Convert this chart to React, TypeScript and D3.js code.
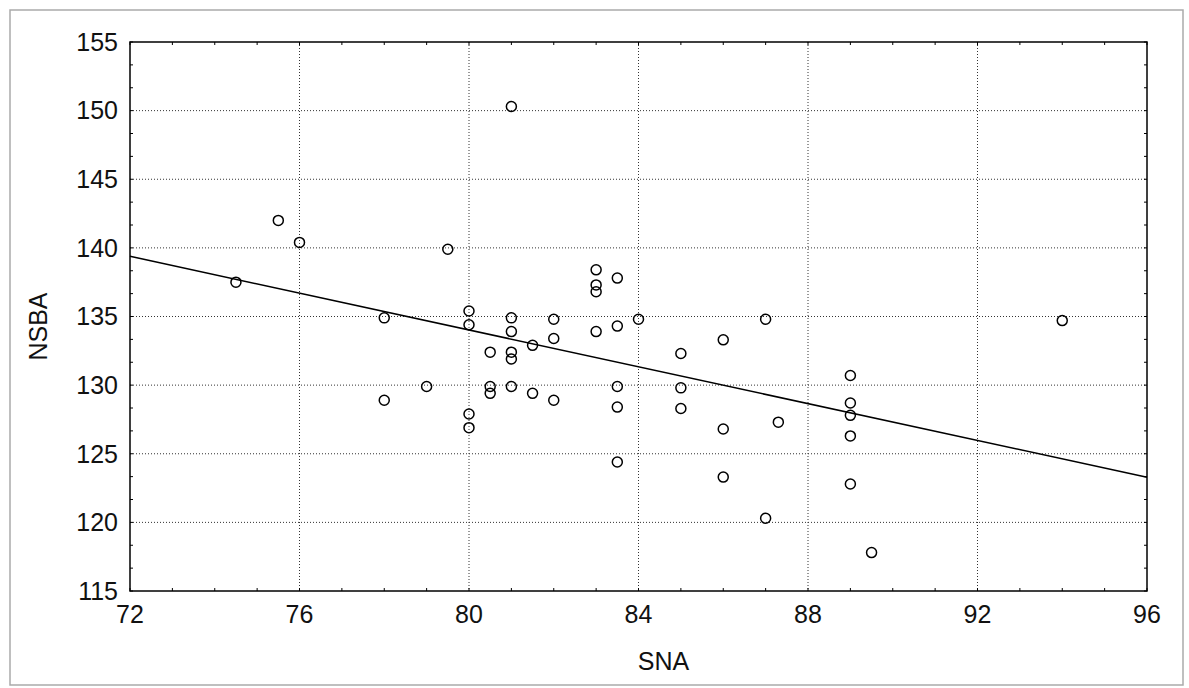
import React from "react";
import * as d3 from "d3";

const snaValues = [
  74.5, 75.5, 76.0, 78.0, 78.0, 79.0, 79.5, 80.0, 80.0, 80.0, 80.0, 80.5, 80.5, 80.5,
  81.0, 81.0, 81.0, 81.0, 81.0, 81.0, 81.5, 81.5, 82.0, 82.0, 82.0, 83.0, 83.0, 83.0,
  83.0, 83.5, 83.5, 83.5, 83.5, 83.5, 84.0, 85.0, 85.0, 85.0, 86.0, 86.0, 86.0, 87.0,
  87.3, 87.0, 89.0, 89.0, 89.0, 89.0, 89.0, 89.5, 94.0,
];
const nsbaValues = [
  137.5, 142.0, 140.4, 134.9, 128.9, 129.9, 139.9, 135.4, 134.4, 127.9, 126.9, 132.4, 129.9, 129.4,
  150.3, 134.9, 133.9, 132.4, 131.9, 129.9, 132.9, 129.4, 134.8, 133.4, 128.9, 138.4, 137.3, 136.8,
  133.9, 137.8, 134.3, 129.9, 128.4, 124.4, 134.8, 132.3, 129.8, 128.3, 133.3, 126.8, 123.3, 134.8,
  127.3, 120.3, 130.7, 128.7, 127.8, 126.3, 122.8, 117.8, 134.7,
];
const xTicks = [72, 76, 80, 84, 88, 92, 96];
const yTicks = [115, 120, 125, 130, 135, 140, 145, 150, 155];
const fitIntercept = 187.7;
const fitSlope = -0.671;
const xTitle = "SNA";
const yTitle = "NSBA";

export default function App() {
  const W = 1189;
  const H = 688;
  const left = 130, right = 1147, top = 42, bottom = 591;
  const x = d3.scaleLinear().domain([72, 96]).range([left, right]);
  const y = d3.scaleLinear().domain([115, 155]).range([bottom, top]);

  const xMinor = d3.range(72, 96.01, 1);
  const yMinor = d3.range(0, 25).map((i) => 115 + (i * 5) / 3);

  const fitLine = d3
    .line<number>()
    .x((d) => x(d))
    .y((d) => y(fitIntercept + fitSlope * d));

  const font = "'Liberation Sans', Arial, sans-serif";

  return (
    <svg
      width={W}
      height={H}
      style={{ position: "absolute", left: 0, top: 0, background: "#fff" }}
    >
      <rect x={10} y={10} width={1173} height={675} fill="#fff" stroke="#aaa" strokeWidth={1.5} />
      {/* grid */}
      {xTicks.slice(1, -1).map((t) => (
        <line key={"gx" + t} x1={x(t)} x2={x(t)} y1={top} y2={bottom} stroke="#333" strokeWidth={1} strokeDasharray="1,2" />
      ))}
      {yTicks.slice(1, -1).map((t) => (
        <line key={"gy" + t} x1={left} x2={right} y1={y(t)} y2={y(t)} stroke="#333" strokeWidth={1} strokeDasharray="1,2" />
      ))}
      {/* minor ticks */}
      {xMinor.map((t) => (
        <g key={"mx" + t}>
          <line x1={x(t)} x2={x(t)} y1={bottom} y2={bottom - 3} stroke="#000" strokeWidth={1} />
          <line x1={x(t)} x2={x(t)} y1={top} y2={top + 3} stroke="#000" strokeWidth={1} />
        </g>
      ))}
      {yMinor.map((t, i) => (
        <g key={"my" + i}>
          <line x1={left} x2={left + 3} y1={y(t)} y2={y(t)} stroke="#000" strokeWidth={1} />
          <line x1={right} x2={right - 3} y1={y(t)} y2={y(t)} stroke="#000" strokeWidth={1} />
        </g>
      ))}
      {/* frame */}
      <rect x={left} y={top} width={right - left} height={bottom - top} fill="none" stroke="#000" strokeWidth={1.5} />
      {/* fit line */}
      <path d={fitLine([72, 96]) || ""} fill="none" stroke="#000" strokeWidth={1.5} />
      {/* points */}
      {snaValues.map((v, i) => (
        <circle key={"p" + i} cx={x(v)} cy={y(nsbaValues[i])} r={5} fill="none" stroke="#000" strokeWidth={1.5} />
      ))}
      {/* tick labels */}
      {yTicks.map((t) => (
        <text key={"ly" + t} x={left - 12} y={y(t)} dy="0.35em" textAnchor="end" fontFamily={font} fontSize={25} fill="#111">
          {t}
        </text>
      ))}
      {xTicks.map((t) => (
        <text key={"lx" + t} x={x(t)} y={bottom + 23} dy="0.35em" textAnchor="middle" fontFamily={font} fontSize={25} fill="#111">
          {t}
        </text>
      ))}
      <text x={(left + right) / 2 + 25} y={661} dy="0.35em" textAnchor="middle" fontFamily={font} fontSize={25} fill="#111">
        {xTitle}
      </text>
      <text
        transform={`translate(38, ${(top + bottom) / 2 + 10}) rotate(-90)`}
        dy="0.35em"
        textAnchor="middle"
        fontFamily={font}
        fontSize={25}
        fill="#111"
      >
        {yTitle}
      </text>
    </svg>
  );
}
